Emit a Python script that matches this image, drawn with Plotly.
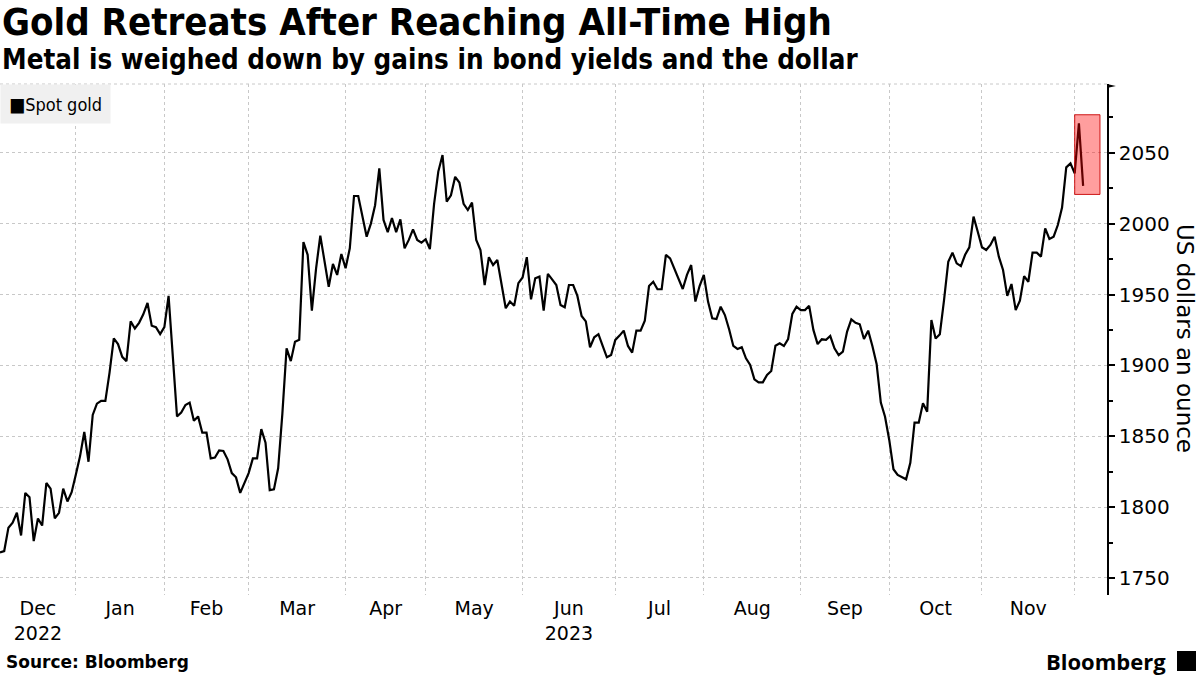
import pandas as pd
import plotly.graph_objects as go

# ---------------- data ----------------
start_date = "2022-12-05"
end_date = "2023-12-04"
market_holidays = ["2022-12-26", "2023-01-02", "2023-04-07"]

spot_gold = [
    1768, 1769, 1785.5, 1789, 1796, 1780, 1810, 1807, 1776, 1792, 1787, 1817, 1813, 1792, 1796,
    1813, 1804, 1810.5, 1823, 1836, 1853, 1832, 1865, 1873, 1875, 1875, 1895, 1919, 1915, 1906,
    1903, 1931, 1926, 1930, 1936, 1944, 1928, 1927, 1922, 1927, 1949, 1910, 1864,
    1866.7, 1872, 1873.7, 1861, 1864, 1852.5, 1852.5, 1834.4, 1835, 1840, 1839.6, 1833.7, 1824,
    1821, 1810, 1817, 1824, 1834.4, 1834.4, 1855, 1845.5, 1812, 1812.5, 1827.4, 1866, 1912, 1903,
    1916.7, 1918, 1987, 1978, 1938.6, 1968.5, 1991.5, 1974, 1955.5, 1971.5, 1963.8, 1978.6, 1968.5,
    1982.6, 2019.5, 2019.5, 2005, 1990.8,
    2000, 2013, 2039, 2002.6, 1994, 2004, 1994, 2003, 1982.6, 1988.5, 1996, 1988.5, 1986.6, 1989,
    1982, 2014, 2036.7, 2048.4, 2015.5, 2020, 2033, 2029, 2014, 2009.6, 2014.8, 1988.5, 1981.4,
    1956.7, 1976.3, 1970.8, 1974.3, 1956.7, 1940.3, 1945, 1942, 1958, 1962, 1976.3, 1946.6, 1961.4,
    1962.6, 1938.6, 1964.5,
    1960.7, 1956.7, 1942.6, 1941, 1956.7, 1956.7, 1949, 1934.8, 1931, 1912.8, 1919.8, 1922, 1913.7,
    1905.7, 1907.3, 1918, 1921, 1924.5, 1913.7, 1909, 1924.5, 1924.5, 1931.5, 1956, 1959, 1953.7,
    1953.7, 1978, 1975.5, 1968.5, 1960.2, 1953.9, 1963.8, 1970.8, 1945, 1956, 1963.8, 1945, 1933.2,
    1932.7, 1941.4, 1935.5, 1925.5, 1913.7, 1911.6,
    1912.8, 1905, 1900.3, 1890.2, 1888, 1888, 1893.2, 1896, 1913.9, 1915.6, 1913.7, 1918.6, 1936.3,
    1941.4, 1939, 1939, 1942, 1925, 1915, 1918.4, 1918, 1920.7, 1912, 1907.3, 1909.7, 1923.8, 1932.5,
    1930, 1929, 1918.6, 1924.5, 1913.7, 1901, 1873.7, 1863.8, 1847.4, 1826.7, 1822.7, 1821, 1819.6,
    1831.3, 1859.6, 1859.6, 1873.2,
    1867.3, 1932, 1919, 1922, 1946, 1973, 1979.5, 1972, 1970, 1978, 1983.3, 2005, 1994.3, 1983.3,
    1981.4, 1985, 1990.8, 1976.7, 1967.3, 1949, 1957.4, 1939, 1945.6, 1963, 1959, 1979.5, 1979.5,
    1976.7, 1996.7, 1989.2, 1990.8, 1999, 2011.3, 2039.7, 2042.5, 2035.5, 2070.8, 2026.6,
]

month_labels = ["Dec<br>2022", "Jan", "Feb", "Mar", "Apr", "May", "Jun<br>2023",
                "Jul", "Aug", "Sep", "Oct", "Nov"]
y_ticks = [1750, 1800, 1850, 1900, 1950, 2000, 2050]
highlight_points = 3

# ---------------- derived ----------------
dates = pd.bdate_range(start_date, end_date)
dates = dates[~dates.isin(pd.to_datetime(market_holidays))]
n = min(len(dates), len(spot_gold))
dates = dates[:n]
spot_gold = spot_gold[:n]

periods = dates.to_period("M")
uniq = list(dict.fromkeys(periods))
end_idx = [max(i for i, p in enumerate(periods) if p == m) for m in uniq[:-1]]
grid_dates = [dates[i] for i in end_idx]

label_pos = []
prev = 0
for e in end_idx:
    mid = (prev + e) / 2
    base = int(mid)
    d = dates[base] + pd.Timedelta(hours=12 if mid - base > 0.25 else 0)
    label_pos.append(d)
    prev = e
label_pos = label_pos[:len(month_labels)]

x_end = dates[-1] + pd.offsets.BDay(5) + pd.Timedelta(hours=16)

fig = go.Figure()
fig.add_trace(go.Scatter(x=dates, y=spot_gold, mode="lines",
                         line=dict(color="black", width=2.2), showlegend=False,
                         name="Spot gold", hoverinfo="x+y"))

last_vals = spot_gold[-highlight_points:]
fig.add_shape(type="rect", xref="x", yref="y",
              x0=dates[-highlight_points], x1=dates[-1] + pd.offsets.BDay(4),
              y0=min(last_vals) - 6, y1=max(last_vals) + 6,
              fillcolor="rgba(255,0,0,0.38)", line=dict(color="rgba(200,0,0,0.9)", width=1),
              layer="above")

# top dotted border
fig.add_shape(type="line", xref="paper", yref="paper", x0=0, x1=1, y0=1, y1=1,
              line=dict(color="#c8c8c8", width=1, dash="dot"), layer="below")
# arrow at top of y axis
fig.add_shape(type="path", xref="paper", yref="paper",
              path="M 1 1 L 1.008 0.996 L 1 0.992 Z", fillcolor="black",
              line=dict(color="black", width=0))

font = "DejaVu Sans"
cond = "DejaVu Sans Condensed, DejaVu Sans"
fig.update_layout(
    width=1200, height=675,
    margin=dict(l=0, r=93, t=84, b=80),
    paper_bgcolor="white", plot_bgcolor="white",
    xaxis=dict(type="date", range=[dates[0], x_end],
               rangebreaks=[dict(bounds=["sat", "mon"]), dict(values=market_holidays)],
               tickmode="array", tickvals=label_pos, ticktext=month_labels,
               ticks="", showgrid=False, zeroline=False, showline=False,
               tickfont=dict(family=font, size=19, color="black"),
               minor=dict(tickmode="array", tickvals=grid_dates, showgrid=True,
                          gridcolor="#c8c8c8", griddash="dot", gridwidth=1, ticks="")),
    yaxis=dict(side="right", range=[1738, 2098.5], tickmode="array", tickvals=y_ticks,
               ticks="outside", ticklen=6, tickwidth=1.5, tickcolor="black",
               showline=True, linecolor="black", linewidth=1.5,
               showgrid=True, gridcolor="#c8c8c8", griddash="dot", gridwidth=1,
               zeroline=False,
               tickfont=dict(family=font, size=20, color="black"),
               minor=dict(tickmode="linear", tick0=1775, dtick=50, ticks="outside",
                          ticklen=4, tickcolor="black", showgrid=False)),
    annotations=[
        dict(text="<b>Gold Retreats After Reaching All-Time High</b>", xref="paper", yref="paper",
             x=0, y=1 + 86 / 511, xanchor="left", yanchor="top", showarrow=False,
             font=dict(family=cond, size=38, color="black")),
        dict(text="<b>Metal is weighed down by gains in bond yields and the dollar</b>",
             xref="paper", yref="paper", x=0, y=1 + 43 / 511, xanchor="left", yanchor="top",
             showarrow=False,
             font=dict(family=cond, size=27.5, color="black")),
        dict(text="<span style='font-size:19px'>■</span>Spot gold", xref="paper", yref="paper",
             x=0, y=1, xanchor="left", yanchor="top", showarrow=False,
             bgcolor="#f0f0f0", borderpad=8,
             font=dict(family=cond, size=18, color="black")),
        dict(text="US dollars an ounce", xref="paper", yref="paper", x=1185 / 1107, y=0.503,
             xanchor="center", yanchor="middle", textangle=90, showarrow=False,
             font=dict(family=font, size=23, color="black")),
        dict(text="<b>Source: Bloomberg</b>", xref="paper", yref="paper", x=0.004, y=-67 / 511,
             xanchor="left", yanchor="middle", showarrow=False,
             font=dict(family=font, size=17, color="black")),
        dict(text="<b>Bloomberg</b>", xref="paper", yref="paper", x=1168 / 1107, y=-66 / 511,
             xanchor="right", yanchor="middle", showarrow=False,
             font=dict(family="Open Sans", size=22, color="black")),
    ],
)
fig.add_shape(type="rect", xref="paper", yref="paper",
              x0=1177 / 1107, x1=1196 / 1107, y0=-76 / 511, y1=-56 / 511,
              fillcolor="black", line=dict(width=0))

fig.write_html("out.html", config={"displayModeBar": False},
               post_script="document.body.style.margin='0';")
